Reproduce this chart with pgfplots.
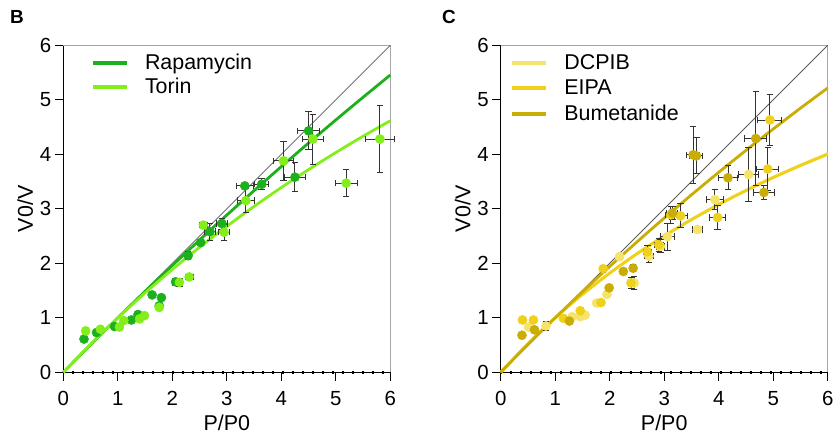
\documentclass[border=0pt]{standalone}
\usepackage{fontspec}
\setmainfont{Liberation Sans}
\usepackage{pgfplots}
\usepackage{pgfplotstable}
\pgfplotsset{compat=1.18}

\definecolor{rapa}{HTML}{1CB01C}
\definecolor{torin}{HTML}{84EE1A}
\definecolor{dcpib}{HTML}{F6E46A}
\definecolor{eipa}{HTML}{EFD11B}
\definecolor{bume}{HTML}{C9AD04}
\definecolor{errc}{HTML}{333333}

% ---------- data: x y ex ey ----------
\pgfplotstableread{
x y ex ey
0.38 0.61 0.03 0.04
0.61 0.73 0.03 0.03
0.94 0.84 0.03 0.03
1.25 0.96 0.03 0.03
1.37 1.06 0.03 0.03
1.63 1.42 0.03 0.04
1.80 1.37 0.03 0.04
1.76 1.22 0.03 0.05
2.06 1.66 0.05 0.06
2.29 2.14 0.05 0.07
2.52 2.38 0.05 0.06
2.69 2.58 0.10 0.16
2.91 2.73 0.10 0.10
3.33 3.42 0.15 0.05
3.64 3.45 0.13 0.10
4.25 3.58 0.20 0.27
4.50 4.43 0.20 0.35
}\rapadata
\pgfplotstableread{
x y ex ey
0.41 0.76 0.02 0.03
0.68 0.79 0.02 0.03
1.03 0.83 0.02 0.03
1.11 0.95 0.02 0.03
1.40 0.98 0.02 0.03
1.49 1.04 0.02 0.03
1.76 1.19 0.03 0.05
2.13 1.65 0.05 0.08
2.31 1.75 0.07 0.05
2.57 2.70 0.08 0.05
2.95 2.57 0.10 0.15
3.35 3.15 0.15 0.22
4.04 3.88 0.18 0.36
4.58 4.28 0.20 0.46
5.19 3.47 0.20 0.25
5.81 4.28 0.27 0.62
}\torindata
\pgfplotstableread{
x y ex ey
0.51 0.83 0.02 0.03
0.83 0.85 0.05 0.08
1.31 1.02 0.02 0.03
1.46 1.02 0.02 0.03
1.55 1.05 0.02 0.03
1.76 1.27 0.02 0.03
1.95 1.43 0.02 0.03
2.18 2.12 0.03 0.04
2.45 1.64 0.05 0.12
2.72 2.13 0.08 0.12
2.93 2.31 0.08 0.12
3.06 2.49 0.12 0.25
3.61 2.62 0.10 0.03
3.93 3.17 0.15 0.18
4.55 3.63 0.18 0.50
}\dcpibdata
\pgfplotstableread{
x y ex ey
0.40 0.96 0.02 0.03
0.60 0.96 0.02 0.03
1.15 0.99 0.02 0.03
1.46 1.13 0.02 0.03
1.84 1.28 0.02 0.03
1.88 1.90 0.04 0.06
2.39 1.64 0.05 0.10
2.69 2.21 0.08 0.12
2.90 2.34 0.08 0.12
3.12 2.89 0.10 0.15
3.30 2.87 0.12 0.22
3.98 2.84 0.15 0.22
4.90 3.73 0.20 0.40
4.94 4.63 0.22 0.47
}\eipadata
\pgfplotstableread{
x y ex ey
0.39 0.68 0.02 0.05
0.62 0.78 0.02 0.05
1.26 0.94 0.02 0.03
1.99 1.55 0.02 0.04
2.25 1.85 0.04 0.05
2.43 1.91 0.04 0.06
3.15 2.92 0.10 0.12
3.53 3.99 0.12 0.52
3.59 3.97 0.12 0.33
4.17 3.57 0.17 0.22
4.68 4.29 0.20 0.87
4.83 3.30 0.20 0.12
}\bumedata

\tikzset{
  zerodots/.style={black, line width=2.6bp,
     dash pattern=on 2bp off 8bp, dash phase=-9bp},
}
\pgfplotsset{
  panel/.style={
    scale only axis, width=327bp, height=327bp,
    xmin=0, xmax=6, ymin=0, ymax=6,
    xtick={0,...,6}, ytick={0,...,6},
    axis x line=bottom, axis y line=left,
    axis line style={-, black, line width=1bp},
    xtick align=outside, ytick align=outside, major tick length=8.5bp,
    tick style={black, line width=1bp},
    ticklabel style={font=\fontsize{20.5}{24}\selectfont},
    xticklabel shift=7bp,
    label style={font=\fontsize{21.5}{25}\selectfont},
    /pgf/number format/assume math mode=true,
    xlabel={P/P0}, ylabel={V0/V},
    xlabel style={yshift=-2bp},
    ylabel style={yshift=0bp},
    clip=false,
    legend cell align=left,
    legend style={draw=none, fill=none, font=\fontsize{21.5}{25}\selectfont,
      at={(0.075,0.985)}, anchor=north west, row sep=3bp,
      /tikz/every odd column/.style={column sep=14bp}},
    legend image code/.code={\draw[##1, line width=4bp] (0bp,0bp) -- (34bp,0bp);},
  },
  pts/.style={only marks, mark=*, mark size=4.6bp, forget plot,
    error bars/x dir=both, error bars/y dir=both,
    error bars/x explicit, error bars/y explicit,
    error bars/error bar style={line width=0.9bp, errc},
    error bars/error mark options={line width=0.9bp, errc, mark size=3.2bp, rotate=90}},
  fit/.style={line width=2.8bp, smooth},
}

\begin{document}
\begin{tikzpicture}
\path[use as bounding box] (0,0) rectangle (833bp,437bp);

% ================= Panel B =================
\begin{axis}[panel, at={(63.3bp,64.7bp)}, anchor=south west]
  \draw[gray!70, line width=0.8bp] (rel axis cs:0,1) -- (rel axis cs:1,1) -- (rel axis cs:1,0);
  \draw[zerodots] (axis cs:0,0) -- (axis cs:6,0);
  \addplot[black!65, line width=0.8bp, forget plot] coordinates {(0,0) (6,6)};
  \addplot[fit, rapa] coordinates {
    (0,0) (0.5,0.505) (1,1) (1.5,1.485) (2,1.961) (2.5,2.427) (3,2.885)
    (3.5,3.333) (4,3.774) (4.5,4.206) (5,4.630) (5.5,5.046) (6,5.455)};
  \addlegendentry{Rapamycin}
  \addplot[fit, torin] coordinates {
    (0,0) (0.5,0.515) (1,1) (1.5,1.456) (2,1.887) (2.5,2.294) (3,2.679)
    (3.5,3.043) (4,3.390) (4.5,3.719) (5,4.032) (5.5,4.331) (6,4.615)};
  \addlegendentry{Torin}
  \addplot[rapa, pts] table[x=x, y=y, x error=ex, y error=ey] {\rapadata};
  \addplot[torin, pts] table[x=x, y=y, x error=ex, y error=ey] {\torindata};
\end{axis}

% ================= Panel C =================
\begin{axis}[panel, at={(500.7bp,64.7bp)}, anchor=south west,
    legend style={at={(0.02,0.985)}, row sep=5bp}]
  \draw[gray!70, line width=0.8bp] (rel axis cs:0,1) -- (rel axis cs:1,1) -- (rel axis cs:1,0);
  \draw[zerodots] (axis cs:0,0) -- (axis cs:6,0);
  \addplot[black!65, line width=0.8bp, forget plot] coordinates {(0,0) (6,6)};
  \addplot[fit, dcpib] coordinates {
    (0,0) (0.5,0.527) (1,1) (1.5,1.431) (2,1.822) (2.5,2.179) (3,2.506)
    (3.5,2.807) (4,3.084) (4.5,3.341) (5,3.580) (5.5,3.803) (6,4.011)};
  \addlegendentry{DCPIB}
  \addplot[fit, eipa] coordinates {
    (0,0) (0.5,0.526) (1,1) (1.5,1.429) (2,1.818) (2.5,2.174) (3,2.500)
    (3.5,2.800) (4,3.077) (4.5,3.333) (5,3.571) (5.5,3.793) (6,4.000)};
  \addlegendentry{EIPA}
  \addplot[fit, bume] coordinates {
    (0,0) (0.5,0.508) (1,1) (1.5,1.478) (2,1.942) (2.5,2.392) (3,2.830)
    (3.5,3.256) (4,3.670) (4.5,4.072) (5,4.464) (5.5,4.846) (6,5.217)};
  \addlegendentry{Bumetanide}
  \addplot[dcpib, pts] table[x=x, y=y, x error=ex, y error=ey] {\dcpibdata};
  \addplot[eipa, pts] table[x=x, y=y, x error=ex, y error=ey] {\eipadata};
  \addplot[bume, pts] table[x=x, y=y, x error=ex, y error=ey] {\bumedata};
\end{axis}

\node[font=\bfseries\fontsize{19}{22}\selectfont] at (17bp,420bp) {B};
\node[font=\bfseries\fontsize{19}{22}\selectfont] at (449bp,420bp) {C};
\end{tikzpicture}
\end{document}
